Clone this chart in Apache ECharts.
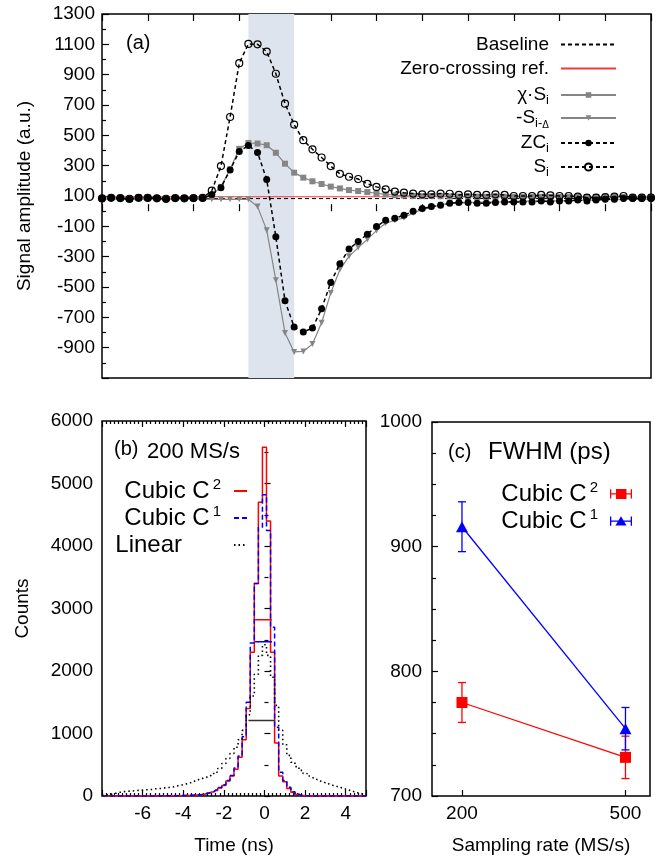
<!DOCTYPE html>
<html>
<head>
<meta charset="utf-8">
<title>Zero-crossing timing</title>
<script src="https://cdn.jsdelivr.net/npm/echarts@6.0.0/dist/echarts.min.js"></script>
<style>
html, body { margin: 0; padding: 0; background: #fff; }
#chart { width: 661px; height: 858px; }
</style>
</head>
<body>
<div id="chart"></div>
<script>
// ---------- (a) digitised pulse, one value per sample ----------
const sampleS = [84, 88, 86, 82, 88, 87, 85, 82, 86, 85, 86, 88,
  135, 297, 621, 976, 1103, 1100, 1052, 906, 709, 571, 468, 408, 354, 297, 246, 227, 212, 180, 160, 144,
  129, 122, 116, 111, 111, 116, 115, 107, 111, 107, 107, 111, 107, 100, 100, 100, 107, 104, 100, 100,
  96, 89, 89, 93, 96, 100, 89, 89, 89];
const sampleChiS = [85, 90, 86, 80, 90, 90, 86, 80, 86, 86, 86, 86,
  104, 160, 276, 411, 450, 446, 435, 385, 313, 254, 221, 197, 179, 162, 150, 139, 133, 126, 118, 111,
  105, 103, 100, 99, 100, 99, 97, 96, 97,
  96, 95, 96, 95, 94, 95, 96, 95, 94, 95, 95, 94, 93, 94, 95, 96, 94, 93, 94, 94];
const sampleDelayedNeg = [80, 80, 80, 80, 80, 80, 80, 80, 80, 80, 80, 80, 78, 78, 79, 78, 78,
  30, -125, -455, -803, -928, -925, -876, -736, -539, -385, -298, -240, -186, -128, -80,
  -60, -44, -12, 10, 26, 42, 52, 55, 56, 58,
  60, 62, 60, 64, 66, 66, 68, 66, 70, 70, 72, 72, 74, 76, 76, 78, 78, 80, 80];
const sampleZC = [83, 89, 85, 78, 89, 89, 85, 78, 85, 85, 85, 85,
  110, 155, 271, 393, 433, 387, 208, -169, -591, -764, -797, -771, -644, -470, -346, -250, -200, -152,
  -101, -60, -46, -27, -1, 17, 30, 39, 52, 57, 57, 52, 52, 57, 61, 61, 61, 61, 67, 61, 67, 67,
  74, 67, 74, 78, 78, 83, 83, 83, 83];
const baselineLevel = 83;
const zeroCrossRef = 95;
const windowSamples = [16, 21];
const yTicksA = [-900, -700, -500, -300, -100, 100, 300, 500, 700, 900, 1100, 1300];

// ---------- (b) timing histograms, 0.2 ns bins ----------
const binFirst = -8.0, binWidth = 0.2;
const countsC2 = [0, 0, 0, 0, 0, 0, 0, 0, 0, 0, 0, 0, 0, 1, 2, 2, 3, 4, 5, 6, 8,
  10, 12, 15, 20, 30, 45, 65, 90, 130, 170, 240, 320, 430, 620, 900, 1400, 2300, 3400, 4700, 5580,
  4400, 2300, 850, 320, 230, 120, 60, 25, 8, 3, 0, 0, 0, 0, 0, 0, 0, 0, 0, 0, 0, 0, 0, 0, 0];
const countsC1 = [0, 0, 0, 0, 0, 0, 0, 0, 0, 0, 0, 0, 0, 1, 2, 3, 3, 4, 5, 6, 8,
  10, 13, 16, 22, 32, 48, 68, 95, 135, 180, 250, 330, 450, 640, 950, 1500, 2450, 3400, 4300, 4820,
  4250, 2700, 1100, 380, 250, 140, 70, 30, 10, 4, 1, 0, 0, 0, 0, 0, 0, 0, 0, 0, 0, 0, 0, 0, 0];
const countsLinear = [10, 20, 30, 45, 60, 70, 75, 80, 85, 90, 95, 100, 105, 115, 120, 130, 135, 145, 160, 170, 185,
  200, 220, 250, 270, 290, 310, 340, 380, 440, 520, 600, 680, 780, 900, 1050, 1300, 1600, 1950, 2250, 2420,
  2250, 1900, 1450, 1050, 820, 650, 540, 470, 410, 360, 320, 290, 260, 230, 210, 185, 165, 150, 130, 110,
  90, 70, 50, 35, 25];
// half-maximum markers: [from, to, level]
const halfMaxC2 = [-0.46, 0.37, 2820];
const halfMaxC1 = [-0.46, 0.37, 2470];
const halfMaxLinear = [-0.79, 0.53, 1210];
const xTicksB = [-6, -4, -2, 0, 2, 4];

// ---------- (c) FWHM versus sampling rate ----------
const rates = [200, 500];
const fwhmC2 = [775, 731];
const errC2 = [16, 17];
const fwhmC1 = [916, 754];
const errC1 = [20, 17];

const FONT = "'Liberation Sans', Arial, Helvetica, sans-serif";
const BLACK = '#000';
const GRAY = '#858585';
const RED = '#ff0000';
const BLUE = '#0000ff';

const idx = sampleS.map((_, i) => i);
const toPairs = (xs, ys) => ys.map((v, i) => [xs[i], v]);
const binCenters = countsC2.map((_, k) => +(binFirst + k * binWidth).toFixed(2));
const plain = v => String(v);

const tickStyle = { color: BLACK, width: 1.2 };
const labelStyle = { color: BLACK, fontFamily: FONT, fontSize: 19 };
const nameStyle = { color: BLACK, fontFamily: FONT, fontSize: 19 };

// legend rich styles
const richSub = {
  t: { fontFamily: FONT, fontSize: 19, color: BLACK, lineHeight: 24 },
  sub: { fontFamily: FONT, fontSize: 13, color: BLACK, lineHeight: 13, padding: [11, 0, 0, 0] },
  subs: { fontFamily: FONT, fontSize: 10, color: BLACK, lineHeight: 10, padding: [14, 0, 0, 0] },
  sp: { width: 7 }
};
const richSup = {
  t: { fontFamily: FONT, fontSize: 24, color: BLACK, lineHeight: 28 },
  sup: { fontFamily: FONT, fontSize: 15, color: BLACK, lineHeight: 15, padding: [0, 0, 13, 3] },
  sp: { width: 8 },
  sp2: { width: 47 },
  sp3: { width: 7 }
};

function entry(name, label, rich, right, top, w, h, extra) {
  return Object.assign({
    data: [name], orient: 'horizontal', align: 'right', selectedMode: false,
    right: right, top: top, padding: 0, itemGap: 0,
    itemWidth: w, itemHeight: h,
    textStyle: { fontFamily: FONT, color: BLACK, rich: rich },
    formatter: () => label
  }, extra || {});
}

const hideSymbol = { itemStyle: { opacity: 0 } };

const legends = [
  entry('Baseline', '{t|Baseline}{sp| }', richSub, 44, 35, 55, 8, hideSymbol),
  entry('Zero-crossing ref.', '{t|Zero-crossing ref.}{sp| }', richSub, 44, 59, 55, 8, hideSymbol),
  entry('chiS', '{t|χ·S}{sub|i}{sp| }', richSub, 44, 83, 55, 7),
  entry('negS', '{t|-S}{sub|i-}{subs|Δ}{sp| }', richSub, 44, 106, 55, 7),
  entry('ZC', '{t|ZC}{sub|i}{sp| }', richSub, 44, 131, 55, 8),
  entry('S', '{t|S}{sub|i}{sp| }', richSub, 44, 155, 55, 9),
  entry('C2hist', '{t|Cubic C}{sup|2}{sp| }', richSup, 413, 477, 13, 8, hideSymbol),
  entry('C1hist', '{t|Cubic C}{sup|1}{sp| }', richSup, 413, 504, 13, 8, hideSymbol),
  entry('LinHist', '{t|Linear}{sp2| }', richSup, 413, 533, 13, 8, hideSymbol),
  entry('C2fwhm', '{t|Cubic C}{sup|2}{sp3| }', richSup, 29, 480, 22, 11,
    { icon: 'path://M0,5h22v1.3H0z M0,1h1.3v9.3H0z M20.7,1h1.3v9.3h-1.3z M6,0.7h10.5v10H6z' }),
  entry('C1fwhm', '{t|Cubic C}{sup|1}{sp3| }', richSup, 29, 507, 22, 11,
    { icon: 'path://M0,5h22v1.3H0z M0,1h1.3v9.3H0z M20.7,1h1.3v9.3h-1.3z M5.5,10 L11,0.6 L16.5,10z' })
];

function errorBars(color, centers, errs) {
  return {
    type: 'custom', xAxisIndex: 4, yAxisIndex: 2, silent: true, z: 3,
    data: rates.map((r, i) => [r, centers[i] - errs[i], centers[i] + errs[i]]),
    encode: { x: 0, y: [1, 2] },
    renderItem: (params, api) => {
      const x = api.value(0);
      const lo = api.coord([x, api.value(1)]);
      const hi = api.coord([x, api.value(2)]);
      const hw = 4;
      const st = { stroke: color, lineWidth: 1.3 };
      return {
        type: 'group', children: [
          { type: 'line', shape: { x1: lo[0], y1: lo[1], x2: hi[0], y2: hi[1] }, style: st },
          { type: 'line', shape: { x1: lo[0] - hw, y1: lo[1], x2: lo[0] + hw, y2: lo[1] }, style: st },
          { type: 'line', shape: { x1: hi[0] - hw, y1: hi[1], x2: hi[0] + hw, y2: hi[1] }, style: st }
        ]
      };
    }
  };
}

const gridBase = { show: true, borderColor: BLACK, borderWidth: 1.5, backgroundColor: 'transparent', containLabel: false };

const option = {
  animation: false,
  backgroundColor: '#fff',
  title: [
    { text: '(a)', left: 126, top: 33, padding: 0, textStyle: { fontFamily: FONT, fontSize: 20, fontWeight: 'normal', color: BLACK } },
    { text: '(b)', left: 114, top: 439, padding: 0, textStyle: { fontFamily: FONT, fontSize: 20, fontWeight: 'normal', color: BLACK } },
    { text: '200 MS/s', left: 147, top: 441, padding: 0, textStyle: { fontFamily: FONT, fontSize: 22, fontWeight: 'normal', color: BLACK } },
    { text: '(c)', left: 448, top: 442, padding: 0, textStyle: { fontFamily: FONT, fontSize: 20, fontWeight: 'normal', color: BLACK } },
    { text: 'FWHM (ps)', left: 488, top: 440, padding: 0, textStyle: { fontFamily: FONT, fontSize: 24, fontWeight: 'normal', color: BLACK } }
  ],
  legend: legends,
  grid: [
    Object.assign({ left: 102, top: 14, width: 549, height: 364 }, gridBase),
    Object.assign({ left: 102, top: 421, width: 264, height: 375 }, gridBase),
    Object.assign({ left: 432, top: 422, width: 218, height: 374 }, gridBase)
  ],
  xAxis: [
    { gridIndex: 0, type: 'value', min: 0, max: 60, interval: 5, position: 'bottom',
      axisLine: { show: false }, splitLine: { show: false }, axisLabel: { show: false },
      axisTick: { inside: true, length: 7, lineStyle: tickStyle } },
    { gridIndex: 0, type: 'value', min: 0, max: 60, interval: 5, position: 'top',
      axisLine: { show: false }, splitLine: { show: false }, axisLabel: { show: false },
      axisTick: { inside: true, length: 7, lineStyle: tickStyle } },
    { gridIndex: 1, type: 'value', min: -8, max: 5, interval: 2, position: 'bottom',
      name: 'Time (ns)', nameLocation: 'middle', nameGap: 40, nameTextStyle: nameStyle,
      axisLine: { show: false }, splitLine: { show: false },
      axisLabel: Object.assign({ margin: 8, formatter: v => xTicksB.indexOf(v) >= 0 ? String(v) : '' }, labelStyle),
      axisTick: { inside: true, length: 6, lineStyle: tickStyle },
      minorTick: { show: true, splitNumber: 10, length: 3, lineStyle: tickStyle } },
    { gridIndex: 1, type: 'value', min: -8, max: 5, interval: 2, position: 'top',
      axisLine: { show: false }, splitLine: { show: false }, axisLabel: { show: false },
      axisTick: { inside: true, length: 6, lineStyle: tickStyle },
      minorTick: { show: true, splitNumber: 10, length: 3, lineStyle: tickStyle } },
    { gridIndex: 2, type: 'value', min: 145, max: 545, position: 'bottom',
      name: 'Sampling rate (MS/s)', nameLocation: 'middle', nameGap: 40, nameTextStyle: nameStyle,
      axisLine: { show: false }, splitLine: { show: false },
      axisLabel: Object.assign({ margin: 8, customValues: rates, formatter: plain }, labelStyle),
      axisTick: { inside: true, length: 6, customValues: rates, lineStyle: tickStyle } }
  ],
  yAxis: [
    { gridIndex: 0, type: 'value', min: -1100, max: 1300, interval: 200,
      name: 'Signal amplitude (a.u.)', nameLocation: 'middle', nameGap: 68, nameTextStyle: nameStyle,
      axisLine: { show: false }, splitLine: { show: false },
      axisLabel: Object.assign({ margin: 7, formatter: v => yTicksA.indexOf(v) >= 0 ? String(v) : '' }, labelStyle),
      axisTick: { inside: true, length: 7, lineStyle: tickStyle },
      minorTick: { show: true, splitNumber: 2, length: 4, lineStyle: tickStyle } },
    { gridIndex: 1, type: 'value', min: 0, max: 6000, interval: 1000,
      name: 'Counts', nameLocation: 'middle', nameGap: 70, nameTextStyle: nameStyle,
      axisLine: { show: false }, splitLine: { show: false },
      axisLabel: Object.assign({ margin: 9, formatter: plain }, labelStyle),
      axisTick: { inside: true, length: 6, lineStyle: tickStyle },
      minorTick: { show: true, splitNumber: 2, length: 4, lineStyle: tickStyle } },
    { gridIndex: 2, type: 'value', min: 700, max: 1000, interval: 100,
      axisLine: { show: false }, splitLine: { show: false },
      axisLabel: Object.assign({ margin: 10, formatter: plain }, labelStyle),
      axisTick: { inside: true, length: 6, lineStyle: tickStyle },
      minorTick: { show: true, splitNumber: 4, length: 4, lineStyle: tickStyle } }
  ],
  series: [
    // (a)
    { name: 'Baseline', type: 'line', xAxisIndex: 0, yAxisIndex: 0, z: 2,
      data: [[0, baselineLevel], [60, baselineLevel]], symbol: 'none',
      lineStyle: { color: BLACK, width: 1, type: [4, 3] }, itemStyle: { color: BLACK },
      markArea: { silent: true, itemStyle: { color: '#dee4ee' },
        data: [[{ xAxis: windowSamples[0] }, { xAxis: windowSamples[1] }]] } },
    { name: 'Zero-crossing ref.', type: 'line', xAxisIndex: 0, yAxisIndex: 0, z: 2,
      data: [[0, zeroCrossRef], [60, zeroCrossRef]], symbol: 'none',
      lineStyle: { color: '#f03a3a', width: 1.2 }, itemStyle: { color: '#f03a3a' } },
    { name: 'chiS', type: 'line', xAxisIndex: 0, yAxisIndex: 0, z: 3,
      data: toPairs(idx, sampleChiS), symbol: 'rect', symbolSize: 6,
      lineStyle: { color: GRAY, width: 1.2 }, itemStyle: { color: GRAY } },
    { name: 'negS', type: 'line', xAxisIndex: 0, yAxisIndex: 0, z: 3,
      data: toPairs(idx, sampleDelayedNeg), symbol: 'triangle', symbolRotate: 180, symbolSize: 6,
      lineStyle: { color: GRAY, width: 1.2 }, itemStyle: { color: GRAY } },
    { name: 'ZC', type: 'line', xAxisIndex: 0, yAxisIndex: 0, z: 4,
      data: toPairs(idx, sampleZC), symbol: 'circle', symbolSize: 7,
      lineStyle: { color: BLACK, width: 1.5, type: [4, 3] }, itemStyle: { color: BLACK } },
    { name: 'S', type: 'line', xAxisIndex: 0, yAxisIndex: 0, z: 5,
      data: toPairs(idx, sampleS), symbol: 'circle', symbolSize: 7,
      lineStyle: { color: BLACK, width: 1.5, type: [4, 3] },
      itemStyle: { color: 'rgba(255,255,255,0)', borderColor: BLACK, borderWidth: 1.2 } },
    // (b)
    { name: 'C2hist', type: 'line', xAxisIndex: 2, yAxisIndex: 1, step: 'middle', z: 2,
      data: toPairs(binCenters, countsC2), symbol: 'none',
      lineStyle: { color: RED, width: 1.5 }, itemStyle: { color: RED } },
    { name: 'C1hist', type: 'line', xAxisIndex: 2, yAxisIndex: 1, step: 'middle', z: 3,
      data: toPairs(binCenters, countsC1), symbol: 'none',
      lineStyle: { color: BLUE, width: 1.5, type: [5, 3] }, itemStyle: { color: BLUE } },
    { name: 'LinHist', type: 'line', xAxisIndex: 2, yAxisIndex: 1, step: 'middle', z: 4,
      data: toPairs(binCenters, countsLinear), symbol: 'none',
      lineStyle: { color: BLACK, width: 1.6, type: [1.5, 3] }, itemStyle: { color: BLACK } },
    { type: 'line', xAxisIndex: 2, yAxisIndex: 1, z: 5, symbol: 'none', silent: true,
      data: [[halfMaxC2[0], halfMaxC2[2]], [halfMaxC2[1], halfMaxC2[2]]], lineStyle: { color: RED, width: 1.5 } },
    { type: 'line', xAxisIndex: 2, yAxisIndex: 1, z: 5, symbol: 'none', silent: true,
      data: [[halfMaxC1[0], halfMaxC1[2]], [halfMaxC1[1], halfMaxC1[2]]], lineStyle: { color: BLUE, width: 1.5 } },
    { type: 'line', xAxisIndex: 2, yAxisIndex: 1, z: 5, symbol: 'none', silent: true,
      data: [[halfMaxLinear[0], halfMaxLinear[2]], [halfMaxLinear[1], halfMaxLinear[2]]], lineStyle: { color: '#333', width: 1.5 } },
    // (c)
    errorBars(RED, fwhmC2, errC2),
    errorBars(BLUE, fwhmC1, errC1),
    { name: 'C2fwhm', type: 'line', xAxisIndex: 4, yAxisIndex: 2, z: 4,
      data: toPairs(rates, fwhmC2), symbol: 'rect', symbolSize: 11,
      lineStyle: { color: RED, width: 1.3 }, itemStyle: { color: RED } },
    { name: 'C1fwhm', type: 'line', xAxisIndex: 4, yAxisIndex: 2, z: 4,
      data: toPairs(rates, fwhmC1), symbol: 'triangle', symbolSize: [12, 11],
      lineStyle: { color: BLUE, width: 1.3 }, itemStyle: { color: BLUE } }
  ]
};

const chart = echarts.init(document.getElementById('chart'));
chart.setOption(option);
</script>
</body>
</html>
